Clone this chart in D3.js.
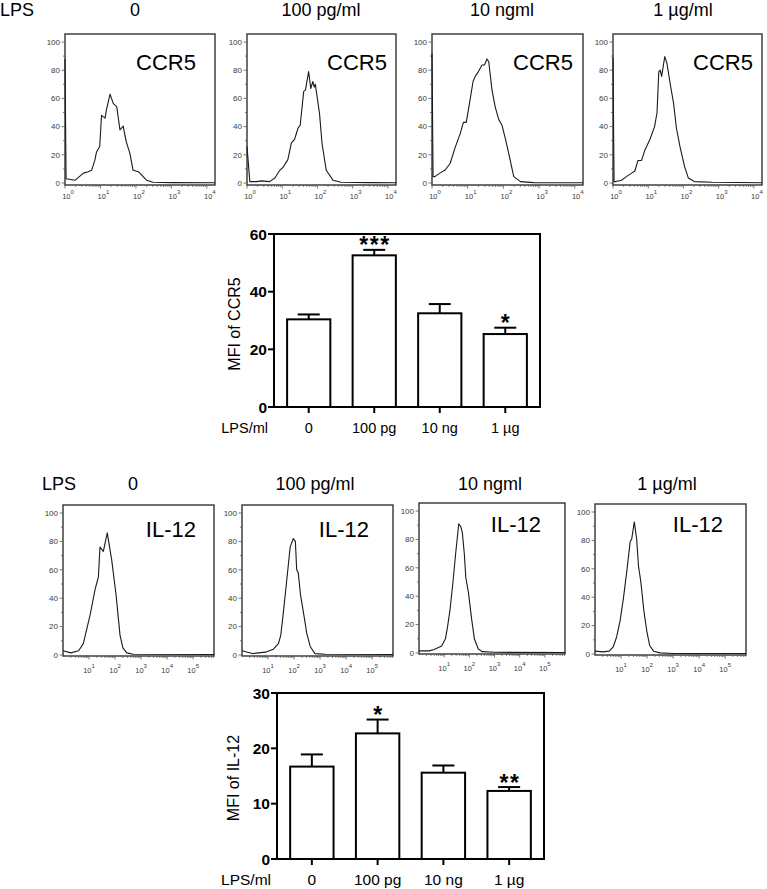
<!DOCTYPE html>
<html><head><meta charset="utf-8">
<script src="https://cdn.jsdelivr.net/npm/d3@7"></script>
<style>
body{margin:0;background:#fff}
svg{display:block}
text{font-family:"Liberation Sans",Arial,Helvetica,sans-serif}
</style>
</head><body>
<svg id="chart" width="767" height="889"></svg>
<script>
// ---------------- DATA ----------------
const doseTitles = ["0", "100 pg/ml", "10 ngml", "1 µg/ml"];
const barCategories = ["0", "100 pg", "10 ng", "1 µg"];

const ccr5Mean = [30.4, 52.6, 32.5, 25.3];
const ccr5ErrTop = [32.1, 54.5, 35.7, 27.5];
const ccr5Stars = ["", "***", "", "*"];

const il12Mean = [16.7, 22.7, 15.6, 12.3];
const il12ErrTop = [18.9, 25.2, 16.9, 13.0];
const il12Stars = ["", "*", "", "**"];

const histYTicks = [0, 20, 40, 60, 80, 100];
const ccr5Decades = [0, 1, 2, 3, 4];
const il12Decades = [1, 2, 3, 4, 5];

// histogram traces: [log10 intensity, % of max]
const ccr5Hist0 = [[0,88],[0.03,3],[0.29,2],[0.52,7],[0.65,8],[0.75,9],[0.84,16],[0.89,22],[0.98,26],[1.03,48],[1.13,46],[1.17,52],[1.27,63],[1.36,56.5],[1.46,54],[1.55,37.6],[1.64,40.4],[1.73,29],[1.83,21],[1.92,9],[2.07,8],[2.30,2],[2.48,0.5],[3.0,0.3],[4.23,0.2]];
const ccr5Hist1 = [[0,26],[0.08,1],[0.27,1],[0.41,1.5],[0.64,1],[0.79,3.5],[0.93,9],[1.02,11],[1.16,16.6],[1.26,28.5],[1.35,31],[1.45,39],[1.51,41],[1.61,65],[1.66,66],[1.75,79],[1.81,67],[1.87,72],[1.91,68],[1.94,70],[2.06,49],[2.13,28],[2.25,9],[2.44,2],[2.67,0.5],[3.5,0.3],[4.23,0.2]];
const ccr5Hist2 = [[0,92],[0.03,4.5],[0.08,4.5],[0.22,7],[0.37,9.2],[0.51,14],[0.64,24.6],[0.79,35],[0.88,43],[0.96,43],[1.05,56.5],[1.15,72],[1.21,75.6],[1.30,79],[1.40,83.7],[1.47,83.7],[1.54,88],[1.59,86],[1.68,66],[1.77,54],[1.87,45],[1.96,41],[2.06,31],[2.14,22],[2.29,4.5],[2.48,1],[2.85,0.3],[4.23,0.2]];
const ccr5Hist3 = [[0,89],[0.03,1],[0.08,1],[0.24,2],[0.39,4.7],[0.53,7],[0.62,8.5],[0.71,16],[0.81,16],[0.90,23],[1.05,31],[1.18,40],[1.25,50],[1.30,79],[1.34,80],[1.38,75.6],[1.47,89.6],[1.53,85],[1.63,69.5],[1.72,56.5],[1.80,39],[1.90,26],[2.03,11.8],[2.14,3.5],[2.31,1],[2.82,0.5],[4.23,0.2]];

const il12Hist0 = [[0,3],[0.3,1.5],[0.6,3],[0.78,8],[0.91,18],[1.04,28],[1.23,46],[1.36,55],[1.42,76],[1.55,73],[1.70,86],[1.87,67],[2.04,42],[2.19,14],[2.3,5],[2.45,1.5],[2.7,0.5],[5.8,0.3]];
const il12Hist1 = [[0,3],[0.4,1],[0.9,2],[1.2,4],[1.4,8],[1.49,14],[1.59,30],[1.72,53],[1.85,76],[1.97,82],[2.05,80],[2.1,60],[2.16,58],[2.25,42],[2.36,30],[2.49,15],[2.62,6],[2.8,1],[3.2,0.5],[5.8,0.3]];
const il12Hist2 = [[0,1.5],[0.4,1.5],[0.6,2.5],[0.9,5],[1.05,10],[1.13,18],[1.23,30],[1.35,50],[1.45,69],[1.58,91],[1.66,89],[1.72,85],[1.8,70],[1.86,53],[1.96,43],[2.09,24],[2.2,10],[2.35,3],[2.5,1],[3,0.5],[5.8,0.3]];
const il12Hist3 = [[0,2],[0.3,1.5],[0.55,2],[0.7,5],[0.83,12],[0.96,23],[1.09,39],[1.22,58],[1.35,79],[1.41,81],[1.51,93],[1.6,81],[1.67,62],[1.76,51],[1.88,30],[1.99,16],[2.1,6],[2.25,2],[2.5,0.8],[3,0.4],[5.8,0.3]];

// ---------------- DRAWING ----------------
const svg = d3.select("#chart");

function histPanel(p) {
  const g = svg.append("g");
  const x = d3.scaleLinear().domain([0, p.xMax]).range([p.l, p.r]);
  const y = d3.scaleLinear().domain([0, 100]).range([p.y0, p.y100]);
  // frame
  g.append("rect").attr("x", p.l).attr("y", p.t).attr("width", p.r - p.l).attr("height", p.b - p.t)
    .attr("fill", "none").attr("stroke", "#333").attr("stroke-width", 1.4);
  // y ticks (minor every 10)
  d3.range(0, 101, 10).forEach(v => {
    const major = v % 20 === 0;
    g.append("line").attr("x1", p.l).attr("x2", p.l - (major ? 3.5 : 2))
      .attr("y1", y(v)).attr("y2", y(v)).attr("stroke", "#555").attr("stroke-width", 0.8);
  });
  histYTicks.forEach(v => {
    g.append("text").attr("x", p.l - 5).attr("y", y(v)).attr("dy", "0.35em")
      .attr("text-anchor", "end").attr("font-size", 8).attr("fill", "#3a3a3a").text(v);
  });
  // x ticks (log decades)
  for (let d = 0; d < Math.ceil(p.xMax); d++) {
    for (let k = 2; k <= 9; k++) {
      const dv = d + Math.log10(k);
      if (dv > p.xMax) break;
      g.append("line").attr("x1", x(dv)).attr("x2", x(dv)).attr("y1", p.b).attr("y2", p.b + 2)
        .attr("stroke", "#555").attr("stroke-width", 0.7);
    }
  }
  p.decades.forEach(dv => {
    g.append("line").attr("x1", x(dv)).attr("x2", x(dv)).attr("y1", p.b).attr("y2", p.b + 3.5)
      .attr("stroke", "#555").attr("stroke-width", 0.8);
    const t = g.append("text").attr("x", x(dv) + p.labShift).attr("y", p.labY)
      .attr("text-anchor", "middle").attr("font-size", 7.5).attr("fill", "#3a3a3a");
    t.append("tspan").text("10");
    t.append("tspan").attr("dy", -5).attr("font-size", 6).text(dv);
  });
  // trace
  g.append("path").datum(p.data)
    .attr("d", d3.line().x(d => x(d[0])).y(d => y(d[1])))
    .attr("fill", "none").attr("stroke", "#1a1a1a").attr("stroke-width", 1.1).attr("stroke-linejoin", "round");
  // marker label
  g.append("text").attr("x", p.markX).attr("y", p.markY).attr("text-anchor", "end")
    .attr("font-size", 22).attr("fill", "#000").text(p.marker);
  // title
  g.append("text").attr("x", p.titleX).attr("y", p.titleY).attr("text-anchor", "middle")
    .attr("font-size", 18).attr("fill", "#000").text(p.title);
}

// top row CCR5
const ccr5Data = [ccr5Hist0, ccr5Hist1, ccr5Hist2, ccr5Hist3];
const ccr5Boxes = [
  {l: 65, r: 215, markX: 196, titleX: 135},
  {l: 247, r: 396, markX: 387, titleX: 321},
  {l: 432, r: 583, markX: 573, titleX: 502},
  {l: 613, r: 762, markX: 753, titleX: 683}
];
ccr5Boxes.forEach((b, i) => histPanel({
  l: b.l, r: b.r, t: 34, b: 185, y0: 183, y100: 42, xMax: 4.23,
  decades: ccr5Decades, labShift: 3, labY: 199,
  data: ccr5Data[i], marker: "CCR5", markX: b.markX, markY: 70,
  title: doseTitles[i], titleX: b.titleX, titleY: 16
}));
svg.append("text").attr("x", 0).attr("y", 16).attr("font-size", 18).text("LPS");

// lower row IL-12
const il12Data = [il12Hist0, il12Hist1, il12Hist2, il12Hist3];
const il12Boxes = [
  {l: 63, r: 214, t: 505, b: 656, y0: 655, y100: 513, markX: 196, markY: 537, titleX: 133},
  {l: 242, r: 393, t: 505, b: 656, y0: 655, y100: 513, markX: 369, markY: 537, titleX: 315},
  {l: 419, r: 565, t: 503, b: 654, y0: 653, y100: 511, markX: 541, markY: 532, titleX: 490},
  {l: 595, r: 746, t: 504, b: 655, y0: 654, y100: 512, markX: 723, markY: 532, titleX: 667}
];
il12Boxes.forEach((b, i) => histPanel({
  l: b.l, r: b.r, t: b.t, b: b.b, y0: b.y0, y100: b.y100, xMax: 5.8,
  decades: il12Decades, labShift: 0, labY: b.b + 17,
  data: il12Data[i], marker: "IL-12", markX: b.markX, markY: b.markY,
  title: doseTitles[i], titleX: b.titleX, titleY: 490
}));
svg.append("text").attr("x", 42).attr("y", 490).attr("font-size", 18).text("LPS");

// bar charts
function barChart(c) {
  const g = svg.append("g");
  const x = d3.scaleBand().domain(barCategories).range([c.l, c.r]).paddingInner(0.34).paddingOuter(0.2);
  const y = d3.scaleLinear().domain([0, c.yMax]).range([c.b, c.t]);
  barCategories.forEach((cat, i) => {
    const cx = x(cat) + x.bandwidth() / 2;
    g.append("line").attr("x1", cx).attr("x2", cx).attr("y1", y(c.mean[i])).attr("y2", y(c.err[i]))
      .attr("stroke", "#000").attr("stroke-width", 2);
    g.append("line").attr("x1", cx - 11).attr("x2", cx + 11).attr("y1", y(c.err[i])).attr("y2", y(c.err[i]))
      .attr("stroke", "#000").attr("stroke-width", 2);
    g.append("rect").attr("x", x(cat)).attr("y", y(c.mean[i])).attr("width", x.bandwidth())
      .attr("height", y(0) - y(c.mean[i])).attr("fill", "#fff").attr("stroke", "#000").attr("stroke-width", 2);
    if (c.stars[i]) {
      g.append("text").attr("x", cx + 0.8).attr("y", y(c.err[i]) + 3.5).attr("text-anchor", "middle")
        .attr("font-size", 23).attr("font-weight", "bold").attr("letter-spacing", 1.6).text(c.stars[i]);
    }
    g.append("line").attr("x1", cx).attr("x2", cx).attr("y1", c.b).attr("y2", c.b + 6)
      .attr("stroke", "#000").attr("stroke-width", 2);
    g.append("text").attr("x", cx).attr("y", c.labY).attr("text-anchor", "middle")
      .attr("font-size", c.labSize).text(cat);
  });
  g.append("rect").attr("x", c.l).attr("y", c.t).attr("width", c.r - c.l).attr("height", c.b - c.t)
    .attr("fill", "none").attr("stroke", "#000").attr("stroke-width", 2);
  y.ticks(3).forEach(v => {
    g.append("line").attr("x1", c.l).attr("x2", c.l - 6).attr("y1", y(v)).attr("y2", y(v))
      .attr("stroke", "#000").attr("stroke-width", 2);
    g.append("text").attr("x", c.l - 7).attr("y", y(v)).attr("dy", "0.36em").attr("text-anchor", "end")
      .attr("font-size", 15.5).attr("font-weight", "bold").text(v);
  });
  g.append("text").attr("x", c.l - 6).attr("y", c.labY).attr("text-anchor", "end")
    .attr("font-size", c.labSize).text("LPS/ml");
  g.append("text").attr("transform", `translate(${c.yLabX},${c.yLabY}) rotate(-90)`)
    .attr("text-anchor", "middle").attr("font-size", 16).text(c.yLabel);
}

barChart({l: 274, r: 540, t: 234, b: 407, yMax: 60, mean: ccr5Mean, err: ccr5ErrTop, stars: ccr5Stars,
  labY: 433, labSize: 14.5, yLabel: "MFI of CCR5", yLabX: 240, yLabY: 324});
barChart({l: 277, r: 544, t: 693, b: 859, yMax: 30, mean: il12Mean, err: il12ErrTop, stars: il12Stars,
  labY: 885, labSize: 15.5, yLabel: "MFI of IL-12", yLabX: 239, yLabY: 778});
</script>
</body></html>
